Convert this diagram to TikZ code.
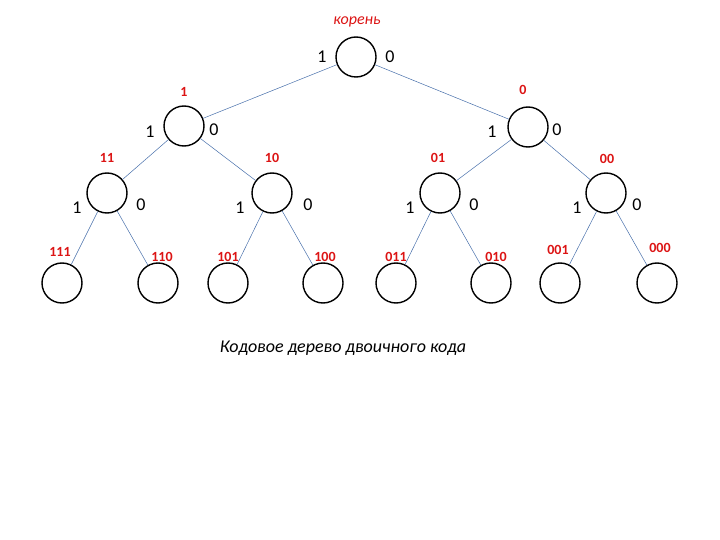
\documentclass[tikz,border=0pt]{standalone}
\usepackage{fontspec}
\setmainfont{Carlito}
\usetikzlibrary{positioning}
\definecolor{codered}{RGB}{220,20,20}
\definecolor{edgeblue}{RGB}{70,110,170}
\tikzset{
  vert/.style={circle, draw, line width=1.4pt, minimum size=40pt, inner sep=0pt},
  bit/.style={font=\fontsize{18}{18}\selectfont},
  code/.style={text=codered, font=\bfseries\fontsize{14}{14}\selectfont},
  edge/.style={draw=edgeblue, line width=0.5pt}
}
\begin{document}
\begin{tikzpicture}[x=1pt, y=-1pt]
    \useasboundingbox (0,0) rectangle (720,540);

    % Vertices
    \node[vert] (R) at (356,57) {};
    \node[vert] (A1) at (184,126) {};
    \node[vert] (A0) at (528,127) {};
    \node[vert] (B11) at (107,193) {};
    \node[vert] (B10) at (272,193) {};
    \node[vert] (B01) at (440,193) {};
    \node[vert] (B00) at (606,193) {};
    \foreach \name/\x in {111/62, 110/158, 101/228, 100/323, 011/396, 010/491, 001/560, 000/657}
        \node[vert] (C\name) at (\x,283) {};

    % Edges
    \draw[edge] (R) -- (A1);
    \draw[edge] (R) -- (A0);
    \draw[edge] (A1) -- (B11);
    \draw[edge] (A1) -- (B10);
    \draw[edge] (A0) -- (B01);
    \draw[edge] (A0) -- (B00);
    \draw[edge] (B11) -- (C111);
    \draw[edge] (B11) -- (C110);
    \draw[edge] (B10) -- (C101);
    \draw[edge] (B10) -- (C100);
    \draw[edge] (B01) -- (C011);
    \draw[edge] (B01) -- (C010);
    \draw[edge] (B00) -- (C001);
    \draw[edge] (B00) -- (C000);

    % Bits
    \node[bit] (bR1) at (322,57) {1};
    \node[bit] (bR0) at (390,57) {0};
    \node[bit] (bA11) at (150,132) {1};
    \node[bit] (bA10) at (214,130) {0};
    \node[bit] (bA01) at (492,132) {1};
    \node[bit] (bA00) at (557,130) {0};
    \foreach \n/\x in {1/77, 2/240, 3/410, 4/577}
        \node[bit] (bl\n) at (\x,208) {1};
    \foreach \n/\x in {1/141, 2/308, 3/474, 4/637}
        \node[bit] (br\n) at (\x,205) {0};

    % Codes
    \node[code, font=\itshape\fontsize{16}{16}\selectfont] (root) at (357,22) {корень};
    \node[code] (cA1) at (184,92) {1};
    \node[code] (cA0) at (523,90) {0};
    \node[code] (c11) at (107,158) {11};
    \node[code] (c10) at (272,158) {10};
    \node[code] (c01) at (438,158) {01};
    \node[code] (c00) at (607,159) {00};
    \node[code] (c111) at (60,252) {111};
    \node[code] (c110) at (162,257) {110};
    \node[code] (c101) at (228,257) {101};
    \node[code] (c100) at (325,257) {100};
    \node[code] (c011) at (396,257) {011};
    \node[code] (c010) at (496,257) {010};
    \node[code] (c001) at (558,250) {001};
    \node[code] (c000) at (660,248) {000};

    % Caption
    \node[font=\itshape\fontsize{18}{18}\selectfont] (cap) at (343,348) {Кодовое дерево двоичного кода};
\end{tikzpicture}
\end{document}
